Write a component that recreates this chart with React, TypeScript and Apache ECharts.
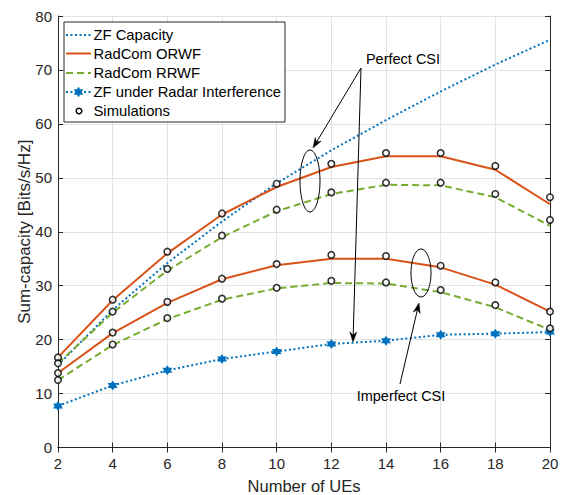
import React, { useEffect, useRef } from "react";
import * as echarts from "echarts";

const xValues = [2, 4, 6, 8, 10, 12, 14, 16, 18, 20];
const zfCapacity = [15.3, 25.5, 34.2, 41.9, 49.0, 55.1, 60.7, 66.0, 71.0, 75.6];
const orwfPerfect = [16.7, 27.3, 36.0, 43.2, 48.3, 52.0, 54.0, 54.0, 51.5, 45.1];
const rrwfPerfect = [15.6, 25.0, 32.8, 39.0, 43.8, 47.0, 48.7, 48.6, 46.4, 41.1];
const orwfImperfect = [13.8, 21.2, 26.8, 31.2, 33.8, 35.0, 35.0, 33.4, 30.2, 25.2];
const rrwfImperfect = [12.5, 19.0, 23.8, 27.4, 29.5, 30.5, 30.4, 28.8, 26.0, 21.8];
const zfRadar = [7.7, 11.5, 14.3, 16.4, 17.8, 19.2, 19.8, 20.9, 21.1, 21.4];
const simOrwfPerfect = [16.7, 27.4, 36.3, 43.4, 48.9, 52.6, 54.6, 54.6, 52.2, 46.4];
const simRrwfPerfect = [15.6, 25.2, 33.1, 39.3, 44.1, 47.3, 49.1, 49.1, 47.0, 42.2];
const simOrwfImperfect = [13.8, 21.3, 27.0, 31.3, 34.0, 35.7, 35.5, 33.7, 30.6, 25.2];
const simRrwfImperfect = [12.5, 19.1, 24.0, 27.6, 29.6, 30.9, 30.6, 29.2, 26.4, 22.1];
const legendNames = [
  "ZF Capacity",
  "RadCom ORWF",
  "RadCom RRWF",
  "ZF under Radar Interference",
  "Simulations",
];

const BLUE = "#0072BD";
const ORANGE = "#D95319";
const GREEN = "#77AC30";
const AX = "#262626";
const FONT = "Liberation Sans, Arial, Helvetica, sans-serif";
const STAR =
  "path://M0,-10 L2.9,-5 L8.66,-5 L5.8,0 L8.66,5 L2.9,5 L0,10 L-2.9,5 L-8.66,5 L-5.8,0 L-8.66,-5 L-2.9,-5 Z";

const pairs = (ys: number[]) => xValues.map((x, i) => [x, ys[i]]);

function arrow(x1: number, y1: number, x2: number, y2: number): any[] {
  const dx = x2 - x1;
  const dy = y2 - y1;
  const L = Math.sqrt(dx * dx + dy * dy);
  const ux = dx / L;
  const uy = dy / L;
  const nx = -uy;
  const ny = ux;
  const hl = 10;
  const hw = 3.5;
  return [
    {
      type: "line",
      shape: { x1, y1, x2: x2 - ux * 6, y2: y2 - uy * 6 },
      style: { stroke: "#000", lineWidth: 1 },
    },
    {
      type: "polygon",
      shape: {
        points: [
          [x2, y2],
          [x2 - ux * hl + nx * hw, y2 - uy * hl + ny * hw],
          [x2 - ux * 7, y2 - uy * 7],
          [x2 - ux * hl - nx * hw, y2 - uy * hl - ny * hw],
        ],
      },
      style: { fill: "#000", stroke: "#000", lineWidth: 0.5 },
    },
  ];
}

export default function App() {
  const ref = useRef<HTMLDivElement>(null);
  useEffect(() => {
    if (!ref.current) return;
    const chart = echarts.init(ref.current, undefined, { renderer: "svg" });

    const lgX = 64;
    const lgY = 22;
    const rowY = [35, 53.5, 73, 92, 111];
    const legendGraphics: any[] = [
      {
        type: "rect",
        shape: { x: lgX, y: lgY, width: 221, height: 100 },
        style: { fill: "#fff", stroke: "#262626", lineWidth: 1 },
        z: 100,
      },
      {
        type: "line",
        shape: { x1: 66, y1: rowY[0], x2: 91, y2: rowY[0] },
        style: { stroke: BLUE, lineWidth: 2, lineDash: [2, 2.5] },
        z: 101,
      },
      {
        type: "line",
        shape: { x1: 66, y1: rowY[1], x2: 91, y2: rowY[1] },
        style: { stroke: ORANGE, lineWidth: 2 },
        z: 101,
      },
      {
        type: "line",
        shape: { x1: 66, y1: rowY[2], x2: 91, y2: rowY[2] },
        style: { stroke: GREEN, lineWidth: 2, lineDash: [7, 4] },
        z: 101,
      },
      {
        type: "line",
        shape: { x1: 66, y1: rowY[3], x2: 91, y2: rowY[3] },
        style: { stroke: BLUE, lineWidth: 2, lineDash: [2, 2.5] },
        z: 101,
      },
      {
        type: "polygon",
        shape: {
          points: [
            [0, -5], [1.45, -2.5], [4.33, -2.5], [2.9, 0], [4.33, 2.5], [1.45, 2.5],
            [0, 5], [-1.45, 2.5], [-4.33, 2.5], [-2.9, 0], [-4.33, -2.5], [-1.45, -2.5],
          ].map((p) => [p[0] + 78.5, p[1] + rowY[3]]),
        },
        style: { fill: BLUE, stroke: BLUE, lineWidth: 0.5 },
        z: 102,
      },
      {
        type: "circle",
        shape: { cx: 79, cy: rowY[4], r: 2.8 },
        style: { fill: "#fff", stroke: "#000", lineWidth: 1.5 },
        z: 101,
      },
      ...legendNames.map((n, i) => ({
        type: "text",
        x: 93.5,
        y: rowY[i],
        style: {
          text: n,
          font: `14.8px ${FONT}`,
          fill: "#000",
          textVerticalAlign: "middle",
          textAlign: "left",
        },
        z: 101,
      })),
    ];

    const annGraphics: any[] = [
      {
        type: "text",
        x: 403,
        y: 59,
        style: {
          text: "Perfect CSI",
          font: `14.5px ${FONT}`,
          fill: "#000",
          textAlign: "center",
          textVerticalAlign: "middle",
        },
      },
      ...arrow(361, 68, 313, 148),
      ...arrow(361, 68, 353, 342),
      {
        type: "ellipse",
        shape: { cx: 310, cy: 181, rx: 10, ry: 31 },
        style: { fill: "none", stroke: "#000", lineWidth: 1 },
      },
      {
        type: "ellipse",
        shape: { cx: 421, cy: 273, rx: 10, ry: 24 },
        style: { fill: "none", stroke: "#000", lineWidth: 1 },
      },
      ...arrow(400, 384, 419, 303),
      {
        type: "text",
        x: 401,
        y: 396,
        style: {
          text: "Imperfect CSI",
          font: `14.5px ${FONT}`,
          fill: "#000",
          textAlign: "center",
          textVerticalAlign: "middle",
        },
      },
    ].map((g) => ({ z: 60, ...g }));

    const lineSeries = (name: string, data: number[], color: string, type: any, extra: any = {}) => ({
      name,
      type: "line",
      data: pairs(data),
      showSymbol: false,
      symbol: "none",
      lineStyle: { color, width: 2, type },
      itemStyle: { color },
      z: 3,
      ...extra,
    });

    const simSeries = (data: number[]) => ({
      name: "Simulations",
      type: "scatter",
      data: pairs(data),
      symbol: "circle",
      symbolSize: 6.5,
      itemStyle: { color: "#fff", borderColor: "#000", borderWidth: 1.6 },
      z: 5,
    });

    const axisCommon = {
      axisLine: { show: true, lineStyle: { color: AX, width: 1 } },
      axisTick: { show: true, inside: true, length: 5, lineStyle: { color: AX } },
    };

    chart.setOption({
      animation: false,
      backgroundColor: "#fff",
      grid: {
        left: 58,
        right: 13,
        top: 16,
        bottom: 47.5,
        containLabel: false,
        outerBoundsMode: "none",
      },
      xAxis: [
        {
          type: "value",
          min: 2,
          max: 20,
          interval: 2,
          ...axisCommon,
          axisLabel: { color: AX, fontSize: 15, fontFamily: FONT, margin: 8 },
          splitLine: { show: true, lineStyle: { color: "#e3e3e3", width: 1 } },
          name: "Number of UEs",
          nameLocation: "middle",
          nameGap: 30,
          nameMoveOverlap: false,
          nameTextStyle: { color: AX, fontSize: 16.5, fontFamily: FONT },
        },
        {
          type: "value",
          position: "top",
          min: 2,
          max: 20,
          interval: 2,
          ...axisCommon,
          axisLabel: { show: false },
          splitLine: { show: false },
        },
      ],
      yAxis: [
        {
          type: "value",
          min: 0,
          max: 80,
          interval: 10,
          ...axisCommon,
          axisLabel: { color: AX, fontSize: 15, fontFamily: FONT, margin: 6 },
          splitLine: { show: true, lineStyle: { color: "#e3e3e3", width: 1 } },
          name: "Sum-capacity [Bits/s/Hz]",
          nameLocation: "middle",
          nameGap: 25,
          nameMoveOverlap: false,
          nameTextStyle: { color: AX, fontSize: 17, fontFamily: FONT },
        },
        {
          type: "value",
          position: "right",
          min: 0,
          max: 80,
          interval: 10,
          ...axisCommon,
          axisLabel: { show: false },
          splitLine: { show: false },
        },
      ],
      series: [
        lineSeries(legendNames[0], zfCapacity, BLUE, [2, 2.5]),
        lineSeries(legendNames[1], orwfPerfect, ORANGE, "solid"),
        lineSeries(legendNames[2], rrwfPerfect, GREEN, [7, 4]),
        lineSeries(legendNames[1], orwfImperfect, ORANGE, "solid"),
        lineSeries(legendNames[2], rrwfImperfect, GREEN, [7, 4]),
        lineSeries(legendNames[3], zfRadar, BLUE, [2, 2.5], {
          showSymbol: true,
          symbol: STAR,
          symbolSize: 10,
          itemStyle: { color: BLUE },
          z: 4,
        }),
        simSeries(simOrwfPerfect),
        simSeries(simRrwfPerfect),
        simSeries(simOrwfImperfect),
        simSeries(simRrwfImperfect),
      ],
      graphic: [...annGraphics, ...legendGraphics],
    });

    return () => chart.dispose();
  }, []);

  return <div ref={ref} style={{ width: 563, height: 495, position: "absolute", left: 0, top: 0 }} />;
}
